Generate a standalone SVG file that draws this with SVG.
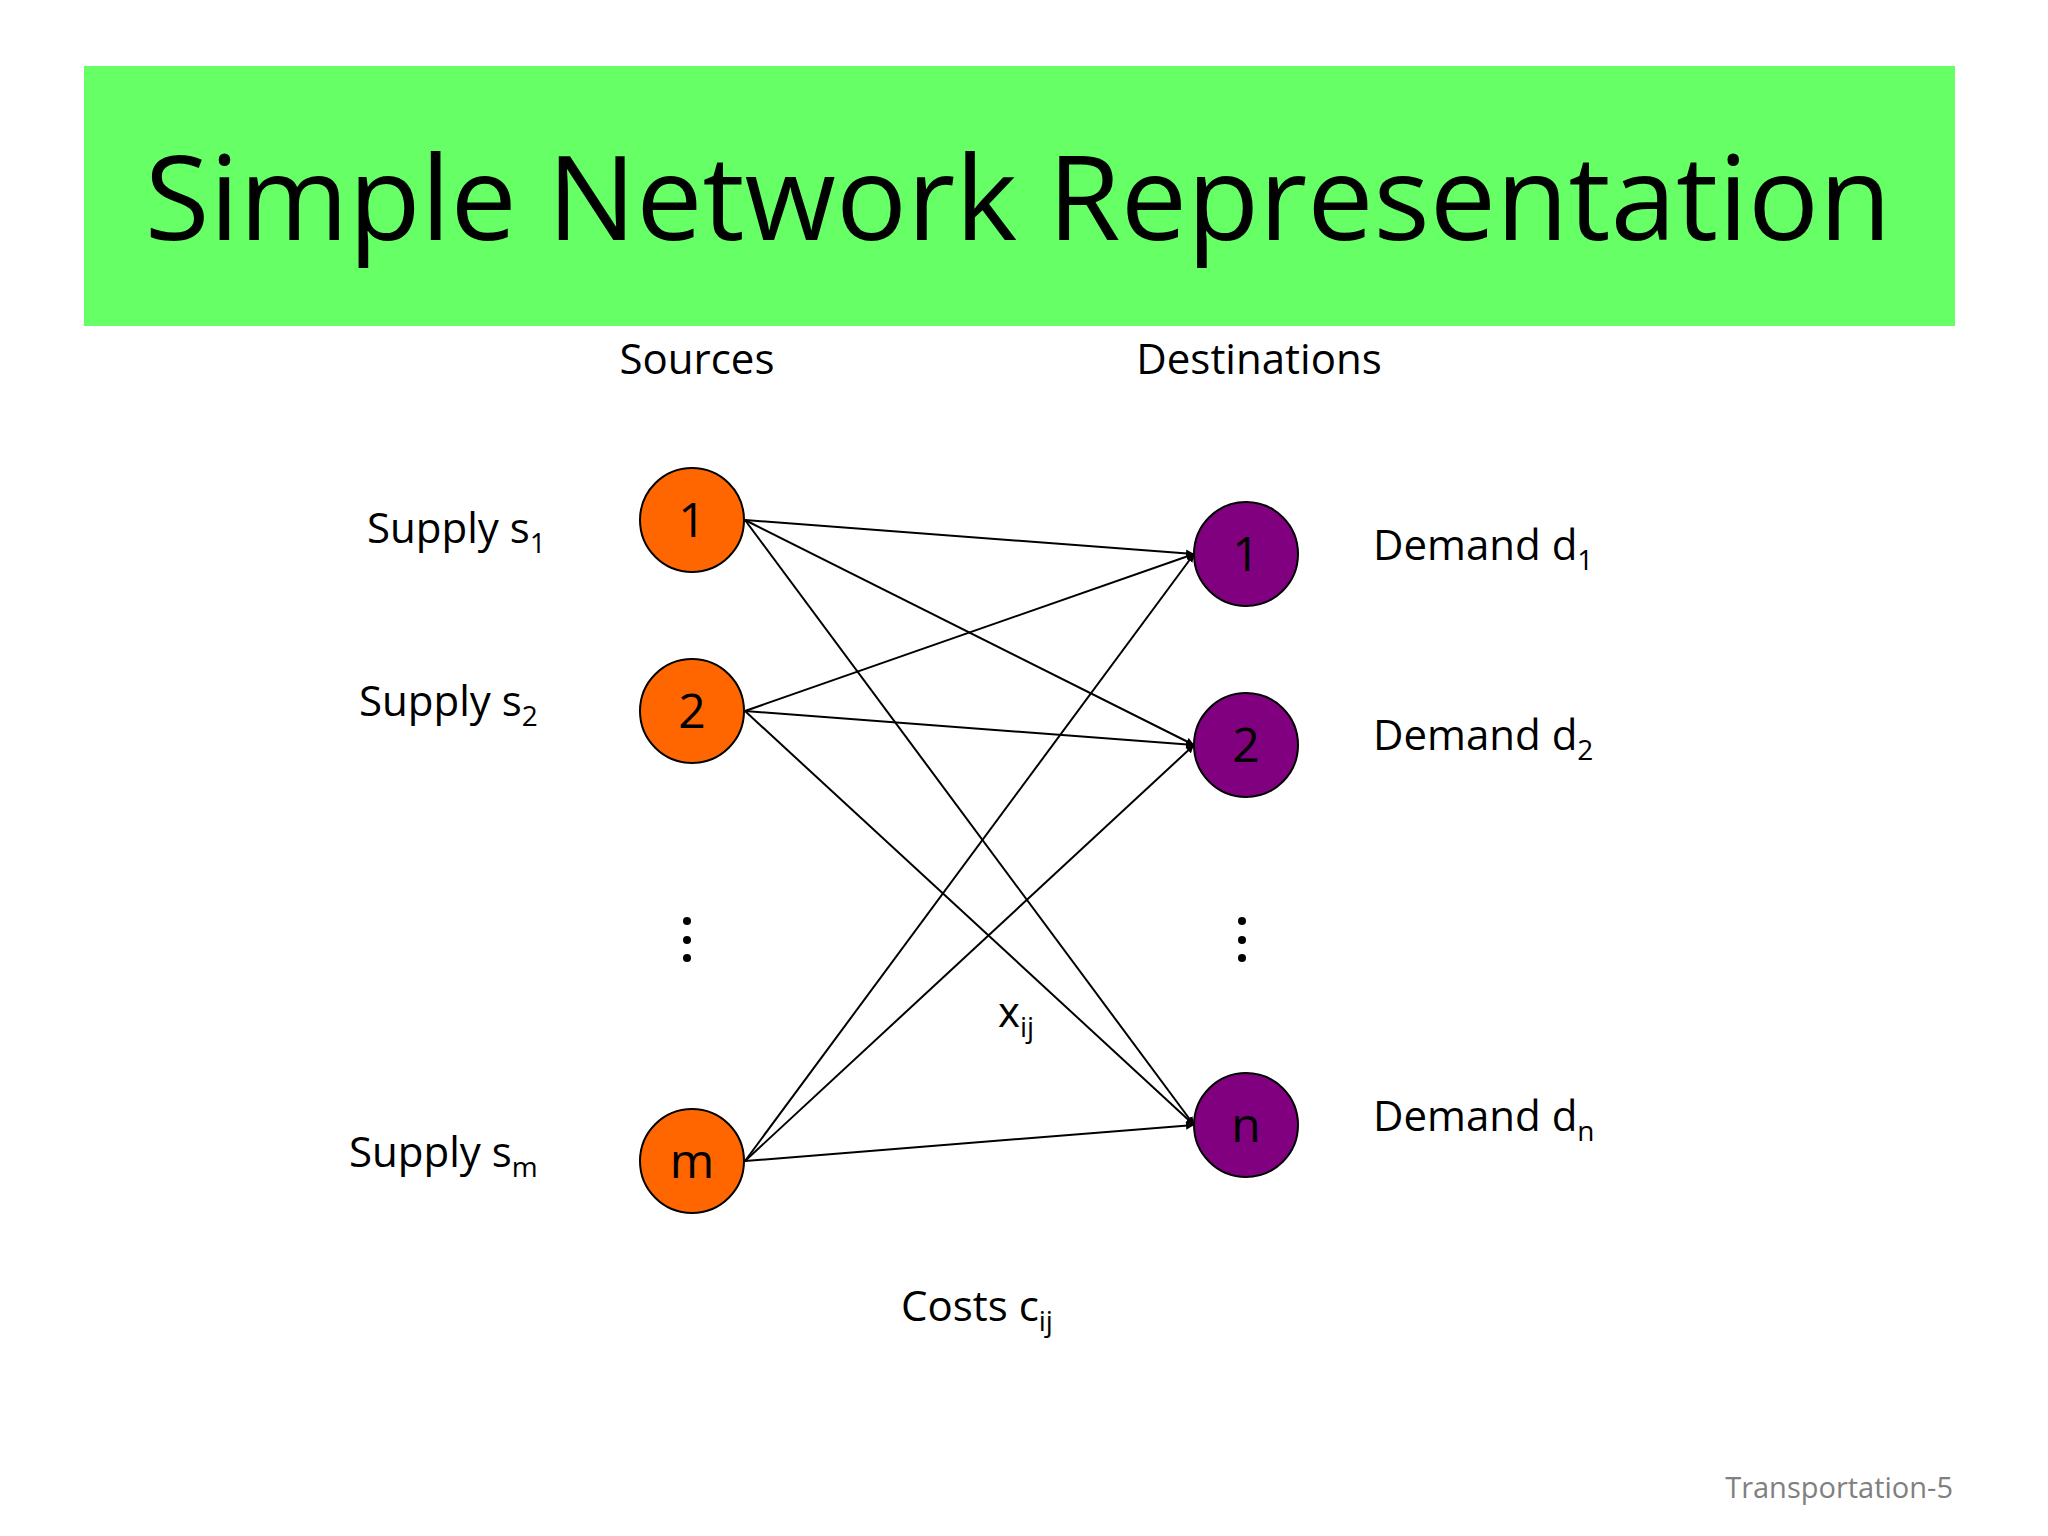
<svg xmlns="http://www.w3.org/2000/svg" width="2048" height="1536" viewBox="0 0 2048 1536">
<style>
text{font-family:"Open Sans","Liberation Sans",sans-serif;fill:#000}
.lbl{font-size:42px}
.num{font-size:48px;text-anchor:middle}
.src{fill:#ff6600;stroke:#000;stroke-width:2}
.dst{fill:#800080;stroke:#000;stroke-width:2}
.e{stroke:#000;stroke-width:2;fill:none;marker-end:url(#ah)}
</style>
<defs><marker id="ah" viewBox="0 0 10 10" refX="10" refY="5" markerWidth="8" markerHeight="8" orient="auto" markerUnits="userSpaceOnUse"><path d="M0,0L10,5L0,10z" fill="#000"/></marker></defs>
<rect x="84" y="66" width="1871" height="260" fill="#66ff66"/>
<text x="1018" y="240" font-size="118" text-anchor="middle">Simple Network Representation</text>
<text class="lbl" x="697" y="374" text-anchor="middle">Sources</text>
<text class="lbl" x="1259" y="374" text-anchor="middle">Destinations</text>
<g id="connectors">
<line class="e" x1="745" y1="520" x2="1194" y2="554"/>
<line class="e" x1="745" y1="520" x2="1194" y2="745"/>
<line class="e" x1="745" y1="520" x2="1194" y2="1125"/>
<line class="e" x1="745" y1="711" x2="1194" y2="554"/>
<line class="e" x1="745" y1="711" x2="1194" y2="745"/>
<line class="e" x1="745" y1="711" x2="1194" y2="1125"/>
<line class="e" x1="745" y1="1161" x2="1194" y2="554"/>
<line class="e" x1="745" y1="1161" x2="1194" y2="745"/>
<line class="e" x1="745" y1="1161" x2="1194" y2="1125"/>
</g>
<g id="s1"><circle class="src" cx="692" cy="520" r="52"/><text class="num" x="692" y="537">1</text></g>
<g id="s2"><circle class="src" cx="692" cy="711" r="52"/><text class="num" x="692" y="728">2</text></g>
<g id="sm"><circle class="src" cx="692" cy="1161" r="52"/><text class="num" x="692" y="1178">m</text></g>
<g id="d1"><circle class="dst" cx="1246" cy="554" r="52"/><text class="num" x="1246" y="571">1</text></g>
<g id="d2"><circle class="dst" cx="1246" cy="745" r="52"/><text class="num" x="1246" y="762">2</text></g>
<g id="dn"><circle class="dst" cx="1246" cy="1125" r="52"/><text class="num" x="1246" y="1142">n</text></g>
<text class="lbl" x="367" y="543">Supply s<tspan font-size="28" dy="10">1</tspan></text>
<text class="lbl" x="359" y="716">Supply s<tspan font-size="28" dy="10">2</tspan></text>
<text class="lbl" x="349" y="1167">Supply s<tspan font-size="28" dy="10">m</tspan></text>
<text class="lbl" x="1373" y="560">Demand d<tspan font-size="28" dy="10">1</tspan></text>
<text class="lbl" x="1373" y="750">Demand d<tspan font-size="28" dy="10">2</tspan></text>
<text class="lbl" x="1373" y="1131">Demand d<tspan font-size="28" dy="10">n</tspan></text>
<g fill="#000"><circle cx="687" cy="921" r="4"/><circle cx="687" cy="940" r="4"/><circle cx="687" cy="958" r="4"/>
<circle cx="1242" cy="921" r="4"/><circle cx="1242" cy="940" r="4"/><circle cx="1242" cy="958" r="4"/></g>
<text class="lbl" x="998" y="1027">x<tspan font-size="28" dy="10">ij</tspan></text>
<text class="lbl" x="901" y="1321">Costs c<tspan font-size="28" dy="10">ij</tspan></text>
<text x="1953" y="1498" font-size="29" text-anchor="end" style="fill:#808080">Transportation-5</text>
</svg>
